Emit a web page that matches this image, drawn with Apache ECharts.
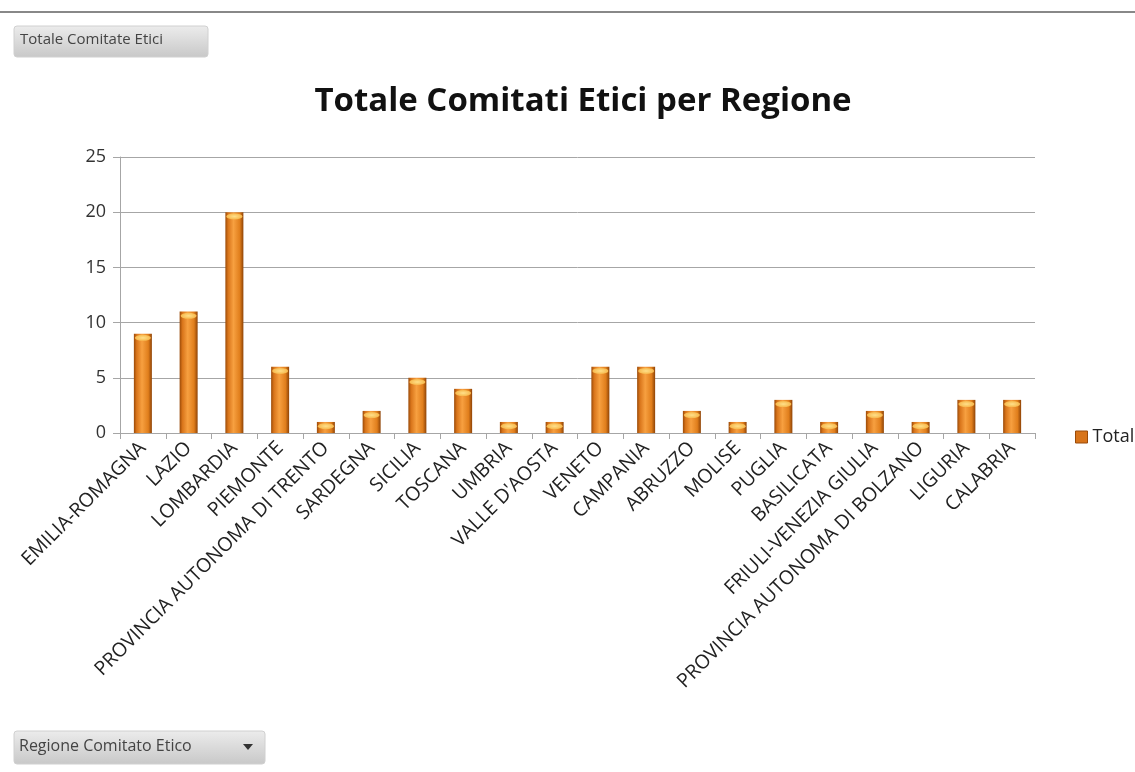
<!DOCTYPE html>
<html>
<head>
<meta charset="utf-8">
<script src="https://cdn.jsdelivr.net/npm/echarts@6/dist/echarts.min.js"></script>
<style>html,body{margin:0;padding:0;background:#fff;}#c{width:1135px;height:772px;}</style>
</head>
<body>
<div id="c"></div>
<script>
var categories = ["EMILIA-ROMAGNA","LAZIO","LOMBARDIA","PIEMONTE","PROVINCIA AUTONOMA DI TRENTO","SARDEGNA","SICILIA","TOSCANA","UMBRIA","VALLE D'AOSTA","VENETO","CAMPANIA","ABRUZZO","MOLISE","PUGLIA","BASILICATA","FRIULI-VENEZIA GIULIA","PROVINCIA AUTONOMA DI BOLZANO","LIGURIA","CALABRIA"];
var totals = [9,11,20,6,1,2,5,4,1,1,6,6,2,1,3,1,2,1,3,3];
var yTicks = [0,5,10,15,20,25];
var titleText = "Totale Comitati Etici per Regione";
var seriesName = "Totale";
var topButton = "Totale Comitate Etici";
var bottomButton = "Regione Comitato Etico";

var chart = echarts.init(document.getElementById('c'));
var font = "'Open Sans', 'Liberation Sans', sans-serif";
var barGrad = new echarts.graphic.LinearGradient(0,0,1,0,[
  {offset:0,color:'#9a4a08'},
  {offset:0.15,color:'#d8741a'},
  {offset:0.45,color:'#f7a040'},
  {offset:0.8,color:'#e07e1c'},
  {offset:1,color:'#8e4306'}
]);
var btnGrad = new echarts.graphic.LinearGradient(0,0,0,1,[
  {offset:0,color:'#ececec'},{offset:1,color:'#c8c8c8'}
]);
chart.setOption({
  backgroundColor:'#fff',
  animation:false,
  title:{text:titleText,left:578,top:80,textAlign:'center',
    textStyle:{fontFamily:font,fontSize:33,fontWeight:'bold',color:'#111'}},
  legend:{left:1070,top:423,itemWidth:12,itemHeight:12,icon:'rect',
    data:[{name:seriesName,itemStyle:{color:'#d8741a',borderColor:'#9a4a08',borderWidth:1}}],
    textStyle:{fontFamily:font,fontSize:18,color:'#222'}},
  grid:{left:120,right:100,top:157,bottom:339,containLabel:false},
  xAxis:{type:'category',data:categories,
    axisLine:{lineStyle:{color:'#a6a6a6'}},
    axisTick:{show:true,length:6,lineStyle:{color:'#a6a6a6'}},
    axisLabel:{rotate:45,interval:0,fontFamily:font,fontSize:19.5,color:'#222',margin:12}},
  yAxis:{type:'value',min:0,max:25,interval:5,
    axisLine:{show:true,lineStyle:{color:'#a6a6a6'}},
    axisTick:{show:true,length:7,lineStyle:{color:'#a6a6a6'}},
    splitLine:{lineStyle:{color:'#a6a6a6'}},
    axisLabel:{fontFamily:font,fontSize:18,color:'#333',margin:14,
      formatter:function(v){return yTicks.indexOf(v)>=0?String(v):'';}}},
  series:[
    {name:seriesName,type:'bar',data:totals,barWidth:18,
      itemStyle:{color:barGrad}},
    {name:'cap',type:'pictorialBar',data:totals,symbol:'circle',symbolPosition:'end',
      symbolSize:[16,6],symbolOffset:[0,'20%'],z:5,
      itemStyle:{color:new echarts.graphic.RadialGradient(0.5,0.5,0.6,[{offset:0,color:'#ffe08a'},{offset:1,color:'#f5b040'}])},
      tooltip:{show:false}}
  ],
  graphic:[
    {type:'line',shape:{x1:0,y1:12,x2:1135,y2:12},style:{stroke:'#888',lineWidth:2}},
    {type:'rect',shape:{x:14,y:26,width:194,height:31,r:3},style:{fill:btnGrad,stroke:'#d0d0d0',lineWidth:1}},
    {type:'text',left:20,top:32,style:{text:topButton,fontFamily:font,fontSize:15,fill:'#444'}},
    {type:'rect',shape:{x:14,y:731,width:251,height:33,r:3},style:{fill:btnGrad,stroke:'#d0d0d0',lineWidth:1}},
    {type:'text',left:19,top:738,style:{text:bottomButton,fontFamily:font,fontSize:16,fill:'#444'}},
    {type:'polygon',shape:{points:[[243,744],[253,744],[248,750]]},style:{fill:'#333'}}
  ]
});
</script>
</body>
</html>
